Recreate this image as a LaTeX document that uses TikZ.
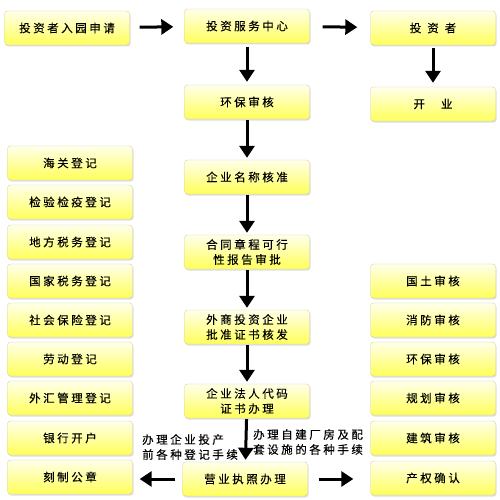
\documentclass[tikz,border=0pt]{standalone}
\usepackage{fontspec}
\newfontfamily\cjk[LetterSpace=22,FakeBold=0.15]{Noto Sans CJK SC}
\usetikzlibrary{arrows.meta,shadows}

\tikzset{
  box/.style={rounded corners=3pt, draw=yellow!35!gray!60, top color=yellow!8, bottom color=yellow!65,
    minimum width=125pt, minimum height=34pt, inner sep=1pt, align=center,
    drop shadow={shadow xshift=1pt, shadow yshift=-1.5pt, fill=black!25},
    font=\cjk\fontsize{11.5}{15}\selectfont},
  arr/.style={line width=3pt, -{Triangle[length=12pt,width=15pt]}},
  lbl/.style={anchor=west, align=left, inner sep=0pt, font=\cjk\fontsize{11.5}{15}\selectfont}
}

\begin{document}
\begin{tikzpicture}[x=1pt,y=-1pt]
        \fill[white] (0,0) rectangle (500,500);
        \useasboundingbox (0,0) rectangle (500,500);
        % top row
        \node[box] (apply) at (67,28) {投资者入园申请};
        \node[box] (service) at (247,26) {投资服务中心};
        \node[box] (investor) at (433,28) {投\hspace{6pt}资\hspace{6pt}者};
        \node[box] (env) at (247,102) {环保审核};
        \node[box] (open) at (433,104) {开\hspace{16pt}业};
        % middle column
        \node[box] (name) at (247,177) {企业名称核准};
        \node[box] (contract) at (247,252) {合同章程可行\\性报告审批};
        \node[box] (foreign) at (247,327) {外商投资企业\\批准证书核发};
        \node[box] (code) at (247,401) {企业法人代码\\证书办理};
        \node[box] (license) at (245,479) {营业执照办理};
        % left and right columns
        \foreach \i/\y/\t in {1/163/海关登记, 2/202/检验检疫登记, 3/242/地方税务登记, 4/281/国家税务登记,
            5/320/社会保险登记, 6/359/劳动登记, 7/398/外汇管理登记, 8/438/银行开户, 9/477/刻制公章}{
            \node[box] (l\i) at (70,\y) {\t};
        }
        \foreach \i/\y/\t in {1/281/国土审核, 2/320/消防审核, 3/359/环保审核, 4/398/规划审核,
            5/438/建筑审核, 6/478/产权确认}{
            \node[box] (r\i) at (433,\y) {\t};
        }
        % arrows
        \draw[arr, shorten <=10pt, shorten >=11pt] (apply) -- (service);
        \draw[arr, shorten <=13pt, shorten >=13pt] (service) -- (investor);
        \draw[arr, shorten <=4pt, shorten >=3pt] (service) -- (env);
        \draw[arr, shorten <=3pt, shorten >=4pt] (investor) -- (open);
        \foreach \a/\b in {env/name, name/contract, contract/foreign, foreign/code, code/license}
            \draw[arr, shorten <=1pt, shorten >=2pt] (\a) -- (\b);
        \draw[arr, shorten <=7pt, shorten >=7pt] (license) -- (license -| l9.east);
        \draw[arr, shorten <=11pt, shorten >=17pt] (license) -- (license -| r6.west);
        % labels
        \node[lbl] (pre) at (142,447) {办理企业投产\\前各种登记手续};
        \node[lbl] (own) at (253,442) {办理自建厂房及配\\套设施的各种手续};
\end{tikzpicture}
\end{document}
